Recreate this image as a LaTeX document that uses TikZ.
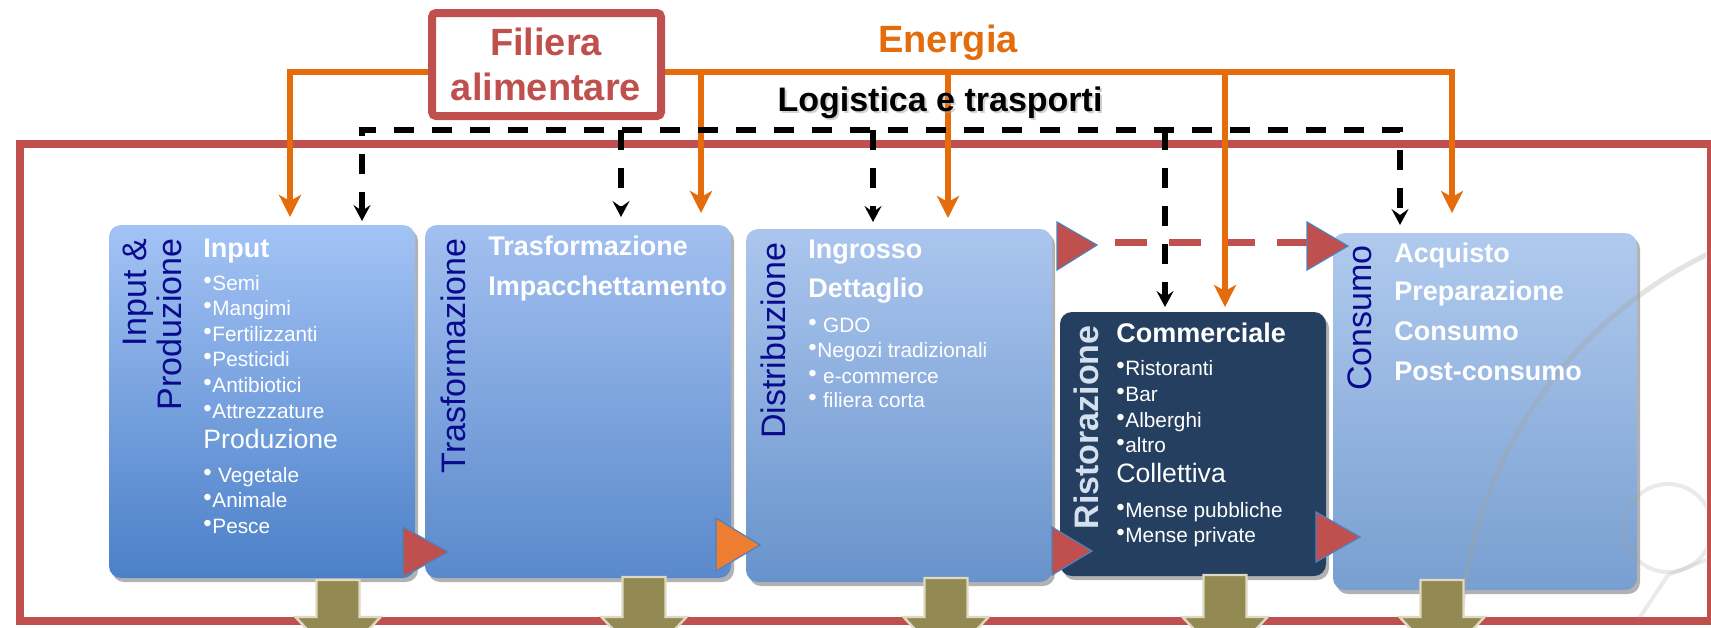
\documentclass[tikz,border=0pt]{standalone}
\usepackage{fontspec}
\setmainfont{Liberation Sans}
\usetikzlibrary{arrows.meta,shadows,fit}

\definecolor{fred}{HTML}{C0504D}
\definecolor{forange}{HTML}{E46C0A}
\definecolor{torange}{HTML}{ED7D31}
\definecolor{fnavy}{HTML}{243F60}
\definecolor{flabel}{HTML}{0A0A8C}
\definecolor{folive}{HTML}{938953}
\definecolor{foliveb}{HTML}{DDD9C3}
\definecolor{fblueb}{HTML}{4F81BD}
\definecolor{ristlab}{HTML}{D5E0EE}
\definecolor{bgsketch}{HTML}{A8A199}
\definecolor{bAt}{HTML}{A3C3F5}\definecolor{bAb}{HTML}{4B80C8}
\definecolor{bBt}{HTML}{A2C0F0}\definecolor{bBb}{HTML}{5A89CB}
\definecolor{bCt}{HTML}{ABC6EE}\definecolor{bCb}{HTML}{6893CB}
\definecolor{bEt}{HTML}{B0CAEE}\definecolor{bEb}{HTML}{789FD1}

\newcommand{\bul}{\raisebox{0.7pt}{\fontsize{12}{12}\selectfont •}\hspace{0.3pt}}

\tikzset{
  stagebox/.style={rounded corners=6pt, inner sep=0pt, draw=none,
    drop shadow={shadow xshift=1.5pt,shadow yshift=-2pt,opacity=.3,fill=black}},
  vlab/.style={rotate=90, anchor=north east, inner sep=0pt, align=right, text=flabel,
    font=\fontsize{17}{17.5}\selectfont},
  head/.style={anchor=base west, inner sep=0pt, text=white, font=\bfseries\fontsize{13.5}{14}\selectfont},
  sub/.style={anchor=base west, inner sep=0pt, text=white, font=\fontsize{13.3}{14}\selectfont},
  item/.style={anchor=base west, inner sep=0pt, text=white, font=\fontsize{10.4}{12}\selectfont},
  energy/.style={draw=forange, line width=3pt, -{Stealth[length=11pt,width=11pt,inset=3pt]}},
  energy2/.style={draw=forange, line width=3pt, {Stealth[length=11pt,width=11pt,inset=3pt]}-{Stealth[length=11pt,width=11pt,inset=3pt]}},
  logi/.style={draw=black, line width=3pt, dash pattern=on 10pt off 9pt, -{Stealth[length=8pt,width=8.5pt,inset=3pt]}},
  logi2/.style={draw=black, line width=3pt, dash pattern=on 10pt off 9pt, {Stealth[length=8pt,width=8.5pt,inset=3pt]}-{Stealth[length=8pt,width=8.5pt,inset=3pt]}},
  flowtri/.style={fill=fred, draw=fblueb, line width=0.6pt},
  outarrow/.style={fill=folive, draw=foliveb, line width=1.2pt},
  sketch/.style={draw=bgsketch, line width=2.5pt, opacity=.3, line cap=round},
}

\begin{document}
\begin{tikzpicture}[x=0.5pt,y=-0.5pt]
\useasboundingbox (0,0) rectangle (1711,627);

% big red frame
\draw[fred, line width=4pt] (20,144) rectangle (1711,621);

% coordinates for energy lines
\coordinate (eA) at (290,72);   \coordinate (eAt) at (290,217);
\coordinate (eB) at (701,72);   \coordinate (eBt) at (701,213);
\coordinate (eC) at (948,72);   \coordinate (eCt) at (948,218);
\coordinate (eD) at (1225,72);  \coordinate (eDt) at (1225,307);
\coordinate (eE) at (1452,72);  \coordinate (eEt) at (1452,213);
% coordinates for logistics lines
\coordinate (lA) at (362,130);  \coordinate (lAt) at (362,221);
\coordinate (lB) at (621,130);  \coordinate (lBt) at (621,217);
\coordinate (lC) at (873,130);  \coordinate (lCt) at (873,222);
\coordinate (lD) at (1165,130); \coordinate (lDt) at (1165,307);
\coordinate (lE) at (1400,130); \coordinate (lEt) at (1400,225);

% stage boxes
\node[stagebox, top color=bAt, bottom color=bAb, fit={(109,225)(415,578)}] (b1) {};
\node[stagebox, top color=bBt, bottom color=bBb, fit={(425,225)(731,578)}] (b2) {};
\node[stagebox, top color=bCt, bottom color=bCb, fit={(746,229)(1052,582)}] (b3) {};
\node[stagebox, fill=fnavy, fit={(1060,312)(1326,576)}] (b4) {};
\node[stagebox, top color=bEt, bottom color=bEb, fit={(1333,233)(1637,590)}] (b5) {};

% faint background sketch
\begin{scope}
  \clip (1330,150) rectangle (1706,617);
  \draw[sketch] (1900,650) circle[radius=220pt];
  \draw[sketch, line width=2pt, opacity=.22] (1668,528) circle[radius=22pt];
  \draw[sketch, line width=2pt, opacity=.22] (1640,617) -- (1668,575) -- (1706,560);
\end{scope}

% red dashed flow at top
\coordinate (rA) at (1115,242); \coordinate (rB) at (1307,242);
\draw[fred, line width=3.5pt, dash pattern=on 16pt off 11pt] (rA) -- (rB);
\path[flowtri] (1057,222) -- (1057,270) -- (1097,245) -- cycle;
\path[flowtri] (1307,222) -- (1307,270) -- (1348,246) -- cycle;

% energy
\draw[energy2, line join=miter] (eAt) -- (eA) -- (eE) -- (eEt);
\draw[energy] (eB) -- (eBt);
\draw[energy] (eC) -- (eCt);
\draw[energy] (eD) -- (eDt);

% logistics
\draw[logi2, line join=miter] (lAt) -- (lA) -- (lE) -- (lEt);
\draw[logi] (lB) -- (lBt);
\draw[logi] (lC) -- (lCt);
\draw[logi] (lD) -- (lDt);

% flow triangles between boxes
\path[flowtri] (403,527) -- (403,577) -- (448,552) -- cycle;
\path[flowtri, fill=torange] (716,518) -- (716,571) -- (760,545) -- cycle;
\path[flowtri] (1052,527) -- (1052,575) -- (1092,551) -- cycle;
\path[flowtri] (1316,512) -- (1316,562) -- (1360,537) -- cycle;

% output arrows
\foreach \cx/\ty in {338/580,644/577,946/578,1225/575,1442/580} {
  \path[outarrow] (\cx-21.5,\ty) -- (\cx+21.5,\ty) -- (\cx+21.5,617) -- (\cx+42.5,617)
     -- (\cx,662) -- (\cx-42.5,617) -- (\cx-21.5,617) -- cycle;
}

% Filiera box
\node[draw=fred, line width=4pt, fill=white, rounded corners=2pt, inner sep=0pt,
      fit={(432,13)(661,116)}] (fil) {};
\node[text=fred, font=\bfseries\fontsize{19}{22.5}\selectfont, align=center, inner sep=0pt]
  (filt) at (546,64) {Filiera\\alimentare};

% titles
\node[text=forange, font=\bfseries\fontsize{19}{22}\selectfont, anchor=base, inner sep=0pt]
  (energia) at (948,52) {Energia};
\node[text=black!35, font=\bfseries\fontsize{17}{20}\selectfont, anchor=base, inner sep=0pt, opacity=.5]
  (logsh) at (942,113) {Logistica e trasporti};
\node[text=black, font=\bfseries\fontsize{17}{20}\selectfont, anchor=base, inner sep=0pt]
  (logt) at (940,111) {Logistica e trasporti};

% vertical labels
\node[vlab] (v1) at (123,238) {Input \&\\Produzione};
\node[vlab] (v2) at (440,238) {Trasformazione};
\node[vlab] (v3) at (760,242) {Distribuzione};
\node[vlab, text=ristlab, font=\bfseries\fontsize{17}{17.5}\selectfont] (v4) at (1073,325) {Ristorazione};
\node[vlab] (v5) at (1347,245) {Consumo};

% box 1 texts
\node[head] (t1h) at (203,257) {Input};
\node[item] (t1a) at (203,290) {\bul Semi};
\node[item] (t1b) at (203,315) {\bul Mangimi};
\node[item] (t1c) at (203,341) {\bul Fertilizzanti};
\node[item] (t1d) at (203,366) {\bul Pesticidi};
\node[item] (t1e) at (203,392) {\bul Antibiotici};
\node[item] (t1f) at (203,418) {\bul Attrezzature};
\node[sub]  (t1p) at (203,448) {Produzione};
\node[item] (t1g) at (203,482) {\bul\ Vegetale};
\node[item] (t1i) at (203,507) {\bul Animale};
\node[item] (t1j) at (203,533) {\bul Pesce};

% box 2 texts
\node[head] (t2a) at (488,255) {Trasformazione};
\node[head] (t2b) at (488,295) {Impacchettamento};

% box 3 texts
\node[head] (t3a) at (808,258) {Ingrosso};
\node[head] (t3b) at (808,297) {Dettaglio};
\node[item] (t3c) at (808,332) {\bul\ GDO};
\node[item] (t3d) at (808,357) {\bul Negozi tradizionali};
\node[item] (t3e) at (808,383) {\bul\ e-commerce};
\node[item] (t3f) at (808,407) {\bul\ filiera corta};

% box 4 texts
\node[head] (t4a) at (1116,342) {Commerciale};
\node[item] (t4b) at (1116,375) {\bul Ristoranti};
\node[item] (t4c) at (1116,401) {\bul Bar};
\node[item] (t4d) at (1116,427) {\bul Alberghi};
\node[item] (t4e) at (1116,452) {\bul altro};
\node[sub]  (t4f) at (1116,482) {Collettiva};
\node[item] (t4g) at (1116,517) {\bul Mense pubbliche};
\node[item] (t4h) at (1116,542) {\bul Mense private};

% box 5 texts
\node[head] (t5a) at (1394,262) {Acquisto};
\node[head] (t5b) at (1394,300) {Preparazione};
\node[head] (t5c) at (1394,340) {Consumo};
\node[head] (t5d) at (1394,380) {Post-consumo};
\end{tikzpicture}
\end{document}
